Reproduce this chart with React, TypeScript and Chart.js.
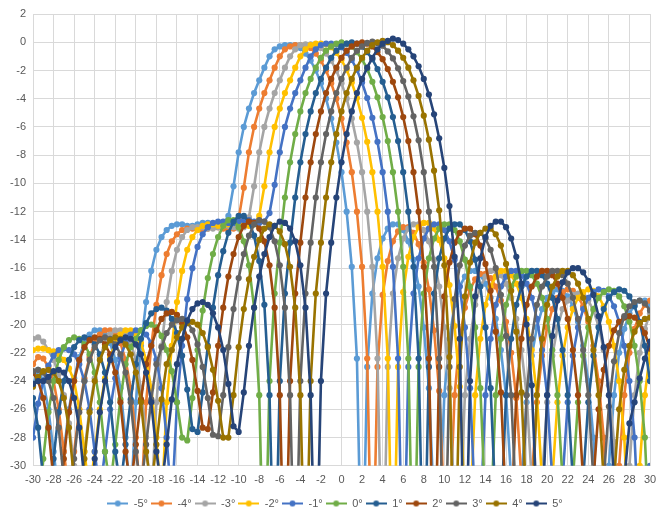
import React, { useEffect, useRef } from "react";
import { Chart, registerables } from "chart.js";

Chart.register(...registerables);

// Angle axis (degrees)
const angles = [
  -30, -29.5, -29, -28.5, -28, -27.5, -27, -26.5, -26, -25.5,
  -25, -24.5, -24, -23.5, -23, -22.5, -22, -21.5, -21, -20.5,
  -20, -19.5, -19, -18.5, -18, -17.5, -17, -16.5, -16, -15.5,
  -15, -14.5, -14, -13.5, -13, -12.5, -12, -11.5, -11, -10.5,
  -10, -9.5, -9, -8.5, -8, -7.5, -7, -6.5, -6, -5.5,
  -5, -4.5, -4, -3.5, -3, -2.5, -2, -1.5, -1, -0.5,
  0, 0.5, 1, 1.5, 2, 2.5, 3, 3.5, 4, 4.5,
  5, 5.5, 6, 6.5, 7, 7.5, 8, 8.5, 9, 9.5,
  10, 10.5, 11, 11.5, 12, 12.5, 13, 13.5, 14, 14.5,
  15, 15.5, 16, 16.5, 17, 17.5, 18, 18.5, 19, 19.5,
  20, 20.5, 21, 21.5, 22, 22.5, 23, 23.5, 24, 24.5,
  25, 25.5, 26, 26.5, 27, 27.5, 28, 28.5, 29, 29.5,
  30,
];

const seriesNames = ["-5°", "-4°", "-3°", "-2°", "-1°", "0°", "1°", "2°", "3°", "4°", "5°"];
const seriesColors = [
  "#5B9BD5", "#ED7D31", "#A5A5A5", "#FFC000", "#4472C4", "#70AD47",
  "#255E91", "#9E480E", "#636363", "#997300", "#264478",
];

const beamM5 = [
  -24.3, -23.2,
  -24, -26, -29, -32, -29, -26, -23.8, -22.3, -21.3, -20.7,
  -20.4, -20.4, -20.7, -21.3, -22.5, -24.5, -28, -33, -25.5, -21.5,
  -18.4, -16.2, -14.7, -13.8, -13.3, -13.0, -12.9, -12.9, -13.0, -13.0,
  -12.9, -12.8, -12.8, -12.9, -13.0, -12.9, -12.3, -10.2, -7.8, -6.0,
  -4.7, -3.6, -2.7, -1.8, -1.0, -0.5, -0.3, -0.2,
  -0.2, -0.2, -0.4, -0.8, -1.3, -2.0, -2.9, -4.0, -5.4, -7.1,
  -9.2, -12.0, -15.9, -22.4, -40, -23, -17.8, -15.3, -13.9, -13.2,
  -12.9, -12.9, -13.3, -14.1, -15.4, -17.3, -20.2, -24.5, -33, -34,
  -25, -21, -18.6, -17.3, -16.6, -16.2, -16.2, -16.5, -17.1, -18.1,
  -19.6, -21.8, -25, -31, -40, -31, -25.5, -22.2, -20.2, -18.9,
  -18.1, -17.7, -17.5, -17.6, -18.0, -18.7, -19.8, -21.5, -24, -28,
  -36, -40, -30, -25, -22, -20.3, -19.2, -18.6, -18.3, -18.3, -18.6,
];

const beamM4 = [
  -22.8, -22.3, -22.4, -23.0,
  -24, -26, -29, -32, -29, -26, -23.8, -22.3, -21.3, -20.7,
  -20.4, -20.4, -20.7, -21.3, -22.5, -24.5, -28, -33, -25.5, -21.5,
  -18.6, -16.5, -15.0, -14.1, -13.6, -13.3, -13.2, -13.2, -13.3, -13.3,
  -13.2, -13.1, -13.1, -13.2, -13.3, -13.2, -12.5, -10.3, -7.8, -6.0,
  -4.7, -3.6, -2.7, -1.8, -1.0, -0.5, -0.3, -0.2,
  -0.2, -0.2, -0.4, -0.8, -1.3, -2.0, -2.9, -4.0, -5.4, -7.1,
  -9.2, -12.0, -15.9, -22.4, -40, -23, -17.9, -15.5, -14.1, -13.4,
  -13.1, -13.1, -13.5, -14.3, -15.6, -17.5, -20.4, -24.7, -33, -34,
  -25, -21, -18.8, -17.5, -16.8, -16.4, -16.4, -16.7, -17.3, -18.3,
  -19.8, -22, -25.2, -31, -40, -31, -25.5, -22.2, -20.2, -18.9,
  -18.1, -17.7, -17.5, -17.6, -18.0, -18.7, -19.8, -21.5, -24, -28,
  -36, -40, -30, -25, -22, -20.3, -19.2, -18.6, -18.3,
];

const beamM3 = [
  -21.0, -20.9, -21.2, -21.8, -22.5, -23.5,
  -25, -27, -30, -33, -29, -26, -23.8, -22.3, -21.3, -20.7,
  -20.4, -20.4, -20.7, -21.3, -22.5, -24.5, -28, -33, -25.5, -21.5,
  -18.4, -16.2, -14.7, -13.8, -13.3, -13.1, -13.1, -13.1, -13.2, -13.2,
  -13.1, -13.0, -13.0, -13.1, -13.2, -13.1, -12.4, -10.2, -7.8, -6.0,
  -4.7, -3.6, -2.7, -1.8, -1.0, -0.5, -0.2, -0.15,
  -0.15, -0.2, -0.4, -0.8, -1.3, -2.0, -2.9, -4.0, -5.4, -7.1,
  -9.2, -12.0, -15.9, -22.4, -40, -23, -17.8, -15.3, -13.9, -13.2,
  -12.9, -12.9, -13.3, -14.1, -15.4, -17.3, -20.2, -24.5, -33, -34,
  -25, -21, -18.6, -17.3, -16.6, -16.2, -16.2, -16.5, -17.1, -18.1,
  -19.6, -21.8, -25, -31, -40, -31, -25.5, -22.2, -20.2, -18.9,
  -18.3, -17.9, -17.8, -17.9, -18.3, -19.0, -20.1, -21.8, -24.3, -28.3,
  -36, -40, -30, -25, -22, -20.3, -19.2,
];

const beamM2 = [
  -21.8, -21.7, -21.7, -21.8, -21.9, -22.1, -22.5, -23.1,
  -24, -26, -29, -32, -29, -26, -23.8, -22.3, -21.3, -20.7,
  -20.4, -20.4, -20.7, -21.3, -22.5, -24.5, -28, -33, -25.5, -21.5,
  -18.4, -16.2, -14.7, -13.8, -13.3, -13.0, -12.9, -12.9, -13.0, -13.0,
  -12.9, -12.8, -12.8, -12.9, -13.0, -12.9, -12.3, -10.2, -7.8, -6.0,
  -4.7, -3.6, -2.7, -1.8, -1.0, -0.5, -0.2, -0.1,
  -0.1, -0.15, -0.35, -0.75, -1.25, -1.95, -2.85, -3.95, -5.35, -7.05,
  -9.2, -12.0, -15.9, -22.4, -40, -23, -17.7, -15.2, -13.8, -13.1,
  -12.8, -12.8, -13.2, -14.0, -15.3, -17.2, -20.1, -24.4, -33, -34,
  -25, -21, -18.6, -17.3, -16.6, -16.2, -16.2, -16.5, -17.1, -18.1,
  -19.6, -21.8, -25, -31, -40, -31, -25.5, -22.2, -20.2, -18.9,
  -18.1, -17.7, -17.5, -17.6, -18.0, -18.7, -19.8, -21.5, -24, -28,
  -36, -40, -30, -25, -22,
];

const beamM1 = [
  -28, -25.6, -24, -22.9, -22.2, -21.8, -21.7, -21.8, -22.1, -22.8,
  -24, -26, -29, -32, -29, -26, -23.8, -22.3, -21.3, -20.7,
  -20.4, -20.4, -20.7, -21.3, -22.5, -24.5, -28, -33, -25.5, -21.5,
  -18.2, -16.0, -14.5, -13.6, -13.1, -12.8, -12.7, -12.7, -12.8, -12.8,
  -12.7, -12.6, -12.6, -12.7, -12.8, -12.7, -12.1, -10.1, -7.8, -6.0,
  -4.7, -3.6, -2.7, -1.8, -1.0, -0.5, -0.2, -0.1,
  -0.1, -0.15, -0.35, -0.75, -1.25, -1.95, -2.85, -3.95, -5.35, -7.05,
  -9.2, -12.0, -15.9, -22.4, -40, -23, -17.8, -15.3, -13.9, -13.2,
  -12.9, -12.9, -13.3, -14.1, -15.4, -17.3, -20.2, -24.5, -33, -34,
  -25, -21, -18.6, -17.3, -16.6, -16.2, -16.2, -16.5, -17.1, -18.1,
  -19.6, -21.8, -25, -31, -40, -31, -25.5, -22.2, -20.2, -18.9,
  -18.1, -17.7, -17.5, -17.6, -18.0, -18.7, -19.8, -21.5, -24, -28,
  -36, -40, -30,
];

const beam0 = [
  -31, -34, -29.5, -26.2, -24, -22.5, -21.6, -21.1, -20.9, -21.0,
  -21.4, -22.1, -23.4, -25.5, -29, -31.5, -28.5, -25.3, -22.8, -21.6,
  -21.0, -20.4, -20.1, -20.0, -20.2, -20.8, -21.8, -23.3, -25.5, -28,
  -28.2, -25.2, -21.8, -19.0, -16.7, -15.0, -13.8, -13.0, -12.6, -12.6,
  -13.1, -14.1, -15.8, -18.8, -25, -40, -24, -17.8, -14.2, -11.0,
  -8.5, -6.5, -4.9, -3.6, -2.6, -1.8, -1.1, -0.6, -0.3, -0.1,
  0, -0.1, -0.3, -0.7, -1.2, -1.9, -2.8, -3.9, -5.3, -7.0,
  -9.2, -12.0, -15.9, -22.4, -40, -23, -17.8, -15.3, -13.9, -13.2,
  -12.9, -12.9, -13.3, -14.1, -15.4, -17.3, -20.2, -24.5, -33, -34,
  -25, -21, -18.6, -17.3, -16.6, -16.2, -16.2, -16.5, -17.1, -18.1,
  -19.6, -21.8, -25, -31, -40, -31, -25.5, -22.2, -20.2, -18.9,
  -18.1, -17.7, -17.5, -17.6, -18.0, -18.7, -19.8, -21.5, -24, -28,
  -36,
];

const beamP1 = [
  -25.2, -27.3,
  -31, -34, -29.5, -26.2, -24, -22.5, -21.6, -21.1, -20.9, -21.0,
  -21.4, -22.1, -23.4, -25.5, -29, -31.5, -28.5, -25.3, -22.8, -21,
  -19.9, -19.2, -18.9, -18.8, -19.0, -19.6, -20.6, -22.2, -24.6, -27.4,
  -27.6, -24.8, -21.5, -18.8, -16.5, -14.8, -13.5, -12.7, -12.3, -12.3,
  -12.7, -13.7, -15.5, -18.6, -25, -40, -24, -17.8, -14.2, -11.0,
  -8.5, -6.5, -4.9, -3.6, -2.6, -1.8, -1.1, -0.6, -0.3, -0.1,
  0, -0.1, -0.3, -0.7, -1.2, -1.9, -2.8, -3.9, -5.3, -7.0,
  -9.2, -12.0, -15.9, -22.4, -40, -23, -17.8, -15.3, -13.9, -13.2,
  -12.9, -12.9, -13.3, -14.1, -15.4, -17.3, -20.2, -24.5, -33, -34,
  -25, -21, -18.6, -17.3, -16.6, -16.2, -16.2, -16.5, -17.1, -18.1,
  -19.6, -21.8, -25, -31, -40, -31, -25.5, -22.2, -20.2, -18.9,
  -18.1, -17.7, -17.5, -17.6, -18.0, -18.7, -19.8, -21.5, -24,
];

const beamP2 = [
  -23.4, -24, -25.2, -27.3,
  -31, -34, -29.5, -26.2, -24, -22.5, -21.6, -21.1, -20.9, -21.0,
  -21.4, -22.1, -23.4, -25.5, -29, -31.5, -28.5, -25.3, -22.8, -21.5,
  -20.4, -19.6, -19.2, -19.1, -19.3, -19.9, -20.9, -22.5, -24.7, -27.3,
  -27.4, -24.8, -21.5, -18.8, -16.6, -15.0, -13.8, -13.0, -12.7, -12.8,
  -13.2, -14.1, -15.8, -18.8, -25, -40, -24, -17.8, -14.2, -11.0,
  -8.5, -6.5, -4.9, -3.6, -2.6, -1.8, -1.1, -0.6, -0.3, -0.1,
  0, -0.1, -0.3, -0.7, -1.2, -1.9, -2.8, -3.9, -5.3, -7.0,
  -9.2, -12.0, -15.9, -22.4, -40, -23, -18.0, -15.6, -14.2, -13.5,
  -13.2, -13.2, -13.6, -14.4, -15.7, -17.6, -20.5, -24.8, -33, -34,
  -25, -21, -18.6, -17.3, -16.6, -16.2, -16.2, -16.5, -17.1, -18.1,
  -19.6, -21.8, -25, -31, -40, -31, -26, -23.2, -21.5, -20.4,
  -19.8, -19.5, -19.4, -19.5, -19.9, -20.6, -21.7,
];

const beamP3 = [
  -23.3, -23.2, -23.4, -24, -25.2, -27.3,
  -31, -34, -29.5, -26.2, -24, -22.5, -21.6, -21.1, -20.9, -21.0,
  -21.4, -22.1, -23.4, -25.5, -29, -31.5, -28.5, -25.3, -22.8, -21.6,
  -20.6, -20.0, -19.7, -19.6, -19.8, -20.4, -21.4, -23.0, -25.2, -27.8,
  -27.9, -25.0, -21.6, -18.9, -16.7, -15.0, -13.7, -12.9, -12.6, -12.7,
  -13.1, -14.1, -15.8, -18.8, -25, -40, -24, -17.8, -14.2, -11.0,
  -8.5, -6.5, -4.9, -3.6, -2.6, -1.8, -1.1, -0.6, -0.3, -0.05,
  0.05, -0.05, -0.25, -0.65, -1.15, -1.85, -2.75, -3.85, -5.25, -6.95,
  -9.2, -12.0, -15.9, -22.4, -40, -23, -18.2, -15.8, -14.4, -13.7,
  -13.5, -13.5, -13.9, -14.7, -16.0, -17.9, -20.8, -25, -33, -34,
  -25, -21, -18.6, -17.3, -16.6, -16.2, -16.2, -16.5, -17.1, -18.1,
  -19.6, -21.8, -25, -31, -40, -31, -25.8, -22.6, -20.6, -19.4,
  -18.7, -18.4, -18.3, -18.5, -19.0,
];

const beamP4 = [
  -24.4, -23.7, -23.3, -23.2, -23.4, -24, -25.2, -27.3,
  -31, -34, -29.5, -26.2, -24, -22.5, -21.6, -21.1, -20.9, -21.0,
  -21.4, -22.1, -23.4, -25.5, -29, -31.5, -28.5, -25.3, -22.8, -21.8,
  -20.9, -20.2, -19.9, -19.8, -20.0, -20.6, -21.6, -23.2, -25.4, -28.0,
  -28.0, -25.0, -21.6, -18.9, -16.8, -15.2, -14.0, -13.2, -12.9, -13.0,
  -13.4, -14.3, -15.9, -18.8, -25, -40, -24, -17.8, -14.2, -11.0,
  -8.5, -6.5, -4.9, -3.6, -2.6, -1.8, -1.1, -0.6, -0.2, 0,
  0.1, 0, -0.2, -0.6, -1.1, -1.8, -2.7, -3.8, -5.2, -6.9,
  -9.1, -11.9, -15.8, -22.3, -40, -23, -18.0, -15.6, -14.2, -13.5,
  -13.2, -13.2, -13.6, -14.4, -15.7, -17.6, -20.5, -24.8, -33, -34,
  -25, -21, -18.6, -17.3, -16.6, -16.2, -16.2, -16.5, -17.1, -18.1,
  -19.6, -21.8, -25, -31, -40, -31, -26, -23.2, -21.5, -20.5,
  -19.9, -19.6, -19.5,
];

const beamP5 = [
  -24.2, -24.0, -24.0, -23.7, -23.3, -23.2, -23.4, -24, -25.2, -27.3,
  -31, -34, -29.5, -26.2, -24, -22.5, -21.6, -21.1, -20.9, -21.0,
  -21.4, -22.1, -23.4, -25.5, -29, -31.5, -28.5, -25.3, -22.8, -21,
  -19.7, -18.9, -18.5, -18.4, -18.6, -19.2, -20.2, -21.8, -24.2, -27.2,
  -27.6, -24.8, -21.5, -18.8, -16.6, -15.0, -13.8, -13.0, -12.7, -12.8,
  -13.2, -14.1, -15.8, -18.8, -25, -40, -24, -17.8, -14.2, -11.0,
  -8.5, -6.5, -4.9, -3.6, -2.6, -1.8, -1.1, -0.5, -0.1, 0.1,
  0.25, 0.15, -0.1, -0.5, -1.0, -1.7, -2.6, -3.7, -5.1, -6.8,
  -8.9, -11.6, -15.2, -21, -40, -24, -18.0, -15.3, -13.8, -13.0,
  -12.7, -12.7, -13.1, -13.9, -15.2, -17.1, -20.0, -24.3, -33, -34,
  -25, -20.8, -18.3, -17.0, -16.3, -16.0, -16.0, -16.3, -16.9, -17.9,
  -19.4, -21.6, -25, -31, -40, -31, -27, -25.5, -23.8, -22.4,
  -21.2,
];

const seriesValues = [
  beamM5, beamM4, beamM3, beamM2, beamM1, beam0,
  beamP1, beamP2, beamP3, beamP4, beamP5,
];

const FONT = { family: "'Liberation Sans', Arial, sans-serif", size: 11 };
const TEXT_COLOR = "#595959";
const GRID_COLOR = "#D9D9D9";

const legendShift = {
  id: "legendShift",
  afterLayout(chart: any) {
    const lg = chart.legend;
    if (lg) {
      lg.left += 10;
      lg.right += 10;
    }
  },
};

export default function App() {
  const canvasRef = useRef<HTMLCanvasElement>(null);

  useEffect(() => {
    document.body.style.margin = "0";
    const markers = seriesColors.map((c) => {
      const cv = document.createElement("canvas");
      cv.width = 21;
      cv.height = 8;
      const g = cv.getContext("2d")!;
      g.strokeStyle = c;
      g.lineWidth = 2;
      g.beginPath();
      g.moveTo(0, 4);
      g.lineTo(21, 4);
      g.stroke();
      g.fillStyle = c;
      g.beginPath();
      g.arc(10.5, 4, 3, 0, Math.PI * 2);
      g.fill();
      return cv;
    });

    const chart = new Chart(canvasRef.current!, {
      type: "line",
      data: {
        datasets: seriesValues.map((vals, i) => ({
          label: seriesNames[i],
          data: vals.map((y, j) => ({ x: angles[j], y })),
          borderColor: seriesColors[i],
          backgroundColor: seriesColors[i],
          pointBackgroundColor: seriesColors[i],
          pointBorderWidth: 0,
          pointRadius: 3.1,
          borderWidth: 2.6,
          tension: 0,
          order: 10 - i,
        })),
      },
      plugins: [legendShift],
      options: {
        responsive: false,
        animation: false,
        layout: { padding: { left: 0, right: 19, top: 14, bottom: -7 } },
        scales: {
          x: {
            type: "linear",
            min: -30,
            max: 30,
            ticks: {
              stepSize: 2,
              color: TEXT_COLOR,
              font: FONT,
              padding: 8,
              maxRotation: 0,
              autoSkip: false,
            },
            grid: { color: GRID_COLOR, drawTicks: false },
            border: { display: false },
          },
          y: {
            type: "linear",
            min: -30,
            max: 2,
            ticks: { stepSize: 2, color: TEXT_COLOR, font: FONT, padding: 7 },
            grid: { color: GRID_COLOR, drawTicks: false },
            border: { display: false },
            afterFit: (s: any) => {
              s.width = 33;
            },
          },
        },
        plugins: {
          legend: {
            position: "bottom",
            labels: {
              usePointStyle: true,
              pointStyleWidth: 21,
              boxHeight: 8,
              padding: 3,
              color: TEXT_COLOR,
              font: FONT,
              sort: (a: any, b: any) => a.datasetIndex - b.datasetIndex,
              generateLabels: (c: any) => {
                const items = (Chart.defaults.plugins.legend.labels as any).generateLabels(c);
                items.forEach((it: any) => {
                  it.pointStyle = markers[it.datasetIndex];
                });
                return items;
              },
            },
          },
          tooltip: { enabled: false },
        },
      },
    });
    return () => chart.destroy();
  }, []);

  return (
    <div style={{ position: "absolute", left: 0, top: 0, width: 669, height: 512, background: "#fff" }}>
      <canvas ref={canvasRef} width={669} height={512} style={{ display: "block", width: 669, height: 512 }} />
    </div>
  );
}
